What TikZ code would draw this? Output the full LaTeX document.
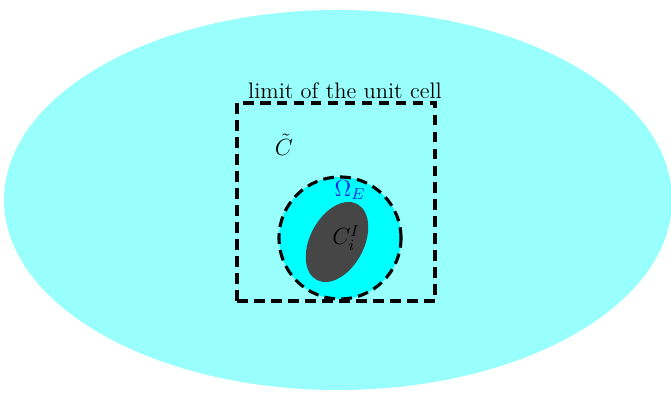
\documentclass[tikz,border=0pt]{standalone}
\usepackage{amsmath}
\definecolor{bgcyan}{RGB}{153,255,252}
\definecolor{omcyan}{RGB}{0,255,255}
\definecolor{incl}{RGB}{70,70,70}
\definecolor{omblue}{RGB}{10,40,220}
\tikzset{lim/.style={line width=1.6pt,dash pattern=on 5.5pt off 3.2pt},
  lbl/.style={font=\fontsize{11.5}{14}\selectfont,inner sep=0pt}}
\begin{document}
\begin{tikzpicture}[x=0.018cm,y=0.018cm]
  \useasboundingbox (0,0) rectangle (671,393);
  \fill[bgcyan] (338,193) ellipse (334 and 190);
  \fill[omcyan] (340,155) circle (61);
  \fill[incl,rotate around={62:(337,151)}] (337,151) ellipse (43 and 27);
  \draw[lim] (340,155) circle (61);
  \draw[lim] (237,92) rectangle (435,290);
  \node[lbl,anchor=base] (cell) at (345,294) {limit of the unit cell};
  \node[lbl] (ct) at (284,248) {\(\tilde{C}\)};
  \node[lbl,omblue] (om) at (350,203) {\(\Omega_E\)};
  \node[lbl] (ci) at (346,155) {\(C_i^I\)};
\end{tikzpicture}
\end{document}
